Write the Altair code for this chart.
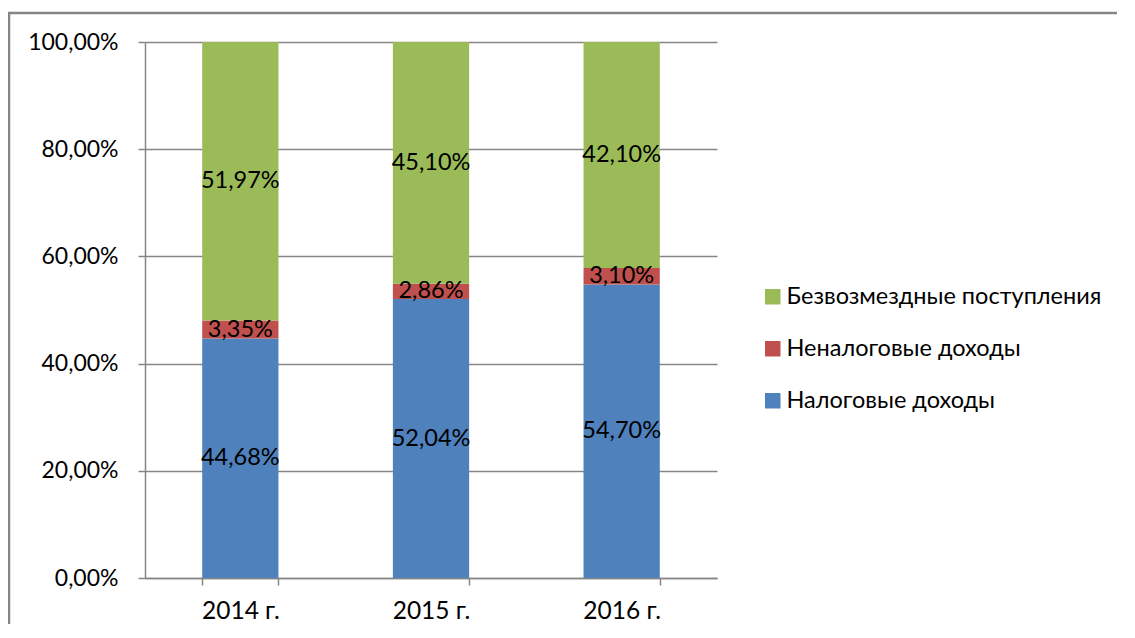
import altair as alt
import pandas as pd

years = ["2014 г.", "2015 г.", "2016 г."]
series = ["Безвозмездные поступления", "Неналоговые доходы", "Налоговые доходы"]
tax = [44.68, 52.04, 54.70]
nontax = [3.35, 2.86, 3.10]
grants = [51.97, 45.10, 42.10]
colors = ["#9BBB59", "#C0504D", "#4F81BD"]
y_ticks = [0, 0.2, 0.4, 0.6, 0.8, 1.0]

rows = []
for i, yr in enumerate(years):
    for s, vals, o in [(series[2], tax, 0), (series[1], nontax, 1), (series[0], grants, 2)]:
        rows.append({"year": yr, "series": s, "value": vals[i], "ord": o,
                     "label": f"{vals[i]:.2f}%".replace(".", ",")})
df = pd.DataFrame(rows)

FONT = "Lato"
GRAY = "#868686"

base = alt.Chart(df).transform_stack(
    stack="value", groupby=["year"], as_=["y0", "y1"], offset="normalize",
    sort=[alt.SortField("ord", order="ascending")]
).transform_calculate(mid="(datum.y0 + datum.y1) / 2")

xenc = alt.X("year:N", sort=years, title=None,
             scale=alt.Scale(paddingInner=0.6, paddingOuter=0.3),
             axis=alt.Axis(labelAngle=0, tickBand="extent", domainColor=GRAY, domainWidth=1.5,
                           tickColor=GRAY, tickWidth=1.5, tickSize=7, labelPadding=14,
                           labelFont=FONT, labelFontSize=24.5, labelColor="black", grid=False))

bars = base.mark_bar().encode(
    x=xenc,
    y=alt.Y("y0:Q", title=None, scale=alt.Scale(domain=[0, 1], nice=False),
            axis=alt.Axis(values=y_ticks, labelExpr="replace(format(datum.value, '.2%'), '.', ',')",
                          domainColor=GRAY, domainWidth=1.5, tickColor=GRAY, tickWidth=1.5, tickSize=7,
                          gridColor=GRAY, gridWidth=1.5, labelPadding=20,
                          labelFont=FONT, labelFontSize=23, labelColor="black")),
    y2="y1:Q",
    color=alt.Color("series:N", scale=alt.Scale(domain=series, range=colors),
                    legend=alt.Legend(title=None, orient="none", legendX=616, legendY=243,
                                      symbolType="square", symbolSize=240, symbolStrokeWidth=0,
                                      labelFont=FONT, labelFontSize=23.5, labelColor="black",
                                      labelLimit=0, rowPadding=27, labelOffset=2, padding=0)),
    order=alt.Order("ord:Q"),
)

texts = base.mark_text(font=FONT, fontSize=23.5, color="black").encode(
    x=alt.X("year:N", sort=years),
    y=alt.Y("mid:Q"),
    text="label:N",
)

frame = alt.Chart(alt.Data(values=[{"a": 1}])).mark_rect(
    fill=None, stroke=GRAY, strokeWidth=2.5
).encode(x=alt.value(-136), x2=alt.value(1300), y=alt.value(-29), y2=alt.value(900))

chart = alt.layer(frame, bars, texts).properties(
    width=572, height=536,
    autosize=alt.AutoSizeParams(type="none"),
    padding={"left": 137, "top": 34, "right": 400, "bottom": 46},
).configure_view(stroke=None)

chart.save("out.html", embed_options={"renderer": "svg", "actions": False})
